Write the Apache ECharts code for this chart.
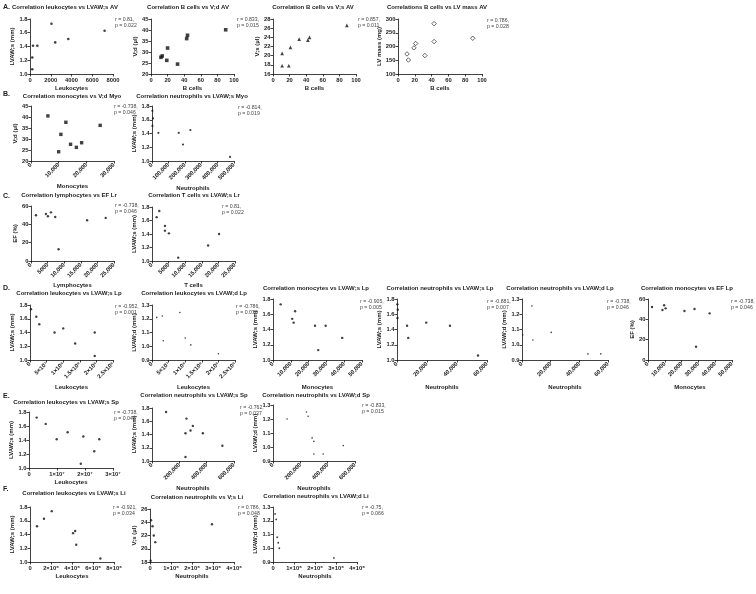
<!DOCTYPE html>
<html>
<head>
<meta charset="utf-8">
<script src="https://cdn.jsdelivr.net/npm/echarts@6/dist/echarts.min.js"></script>
<style>
html, body { margin: 0; background: #fff; }
#chart { width: 756px; height: 594px; }
</style>
</head>
<body>
<div id="chart"></div>
<script>
// ---- data ----
// A: AV
const a1Leukocytes = [220, 220, 290, 710, 2070, 2430, 3690, 7190]
const a1LvawS = [1.07, 1.24, 1.41, 1.41, 1.73, 1.46, 1.51, 1.63]
const a2BCells = [12, 13.5, 20, 19, 32, 43, 44, 90]
const a2Vd = [27.6, 28.2, 31.8, 26.2, 24.5, 36.1, 37.6, 40.1]
const a3BCells = [11, 11, 19, 21, 31.5, 42, 44, 89]
const a3Vs = [20.5, 17.8, 17.8, 21.8, 23.6, 23.4, 24.0, 26.6]
const a4BCells = [10.7, 12.4, 19, 21, 32, 43, 43, 89]
const a4LvMass = [173, 151, 195, 211, 167, 283, 218, 230]
// B: Myo
const b1Monocytes = [6100, 10000, 10800, 12600, 14300, 16400, 18300, 25000]
const b1Vd = [40.5, 24.2, 32.1, 37.6, 27.6, 26.2, 28.3, 36.2]
const b2Neutrophils = [2400, 6100, 2400, 39000, 163000, 189000, 234000, 476000]
const b2LvawS = [1.73, 1.62, 1.51, 1.41, 1.41, 1.24, 1.45, 1.06]
// C: Lr
const c1Lymphocytes = [1500, 4500, 5100, 6000, 7300, 8300, 16900, 22500]
const c1Ef = [49.9, 51.3, 48.8, 53.1, 48, 12.8, 44.4, 47]
const c2TCells = [1400, 2200, 3900, 3900, 5100, 7900, 16900, 20200]
const c2LvawS = [1.65, 1.74, 1.52, 1.45, 1.41, 1.05, 1.23, 1.40]
// D: Lp
const d1Leukocytes = [3e6, 1.9e7, 2.8e7, 7.4e7, 1.0e8, 1.36e8, 1.95e8, 1.95e8]
const d1LvawS = [1.74, 1.63, 1.52, 1.40, 1.46, 1.24, 1.40, 1.06]
const d2Leukocytes = [1.4e7, 3.1e7, 8.4e7, 1.0e8, 3.4e7, 1.17e8, 2.0e8]
const d2LvawD = [1.21, 1.22, 1.245, 1.06, 1.04, 1.01, 0.945]
const d3Monocytes = [4300, 10800, 11600, 12400, 23600, 29600, 38900, 25400]
const d3LvawS = [1.73, 1.54, 1.49, 1.64, 1.45, 1.45, 1.29, 1.13]
const d4Neutrophils = [200, 500, 300, 6700, 19500, 35300, 7500, 54000]
const d4LvawS = [1.73, 1.66, 1.55, 1.45, 1.49, 1.45, 1.29, 1.06]
const d5Neutrophils = [500, 6900, 7600, 20400, 46000, 55000]
const d5LvawD = [1.064, 1.254, 1.031, 1.081, 0.94, 0.94]
const d6Monocytes = [2400, 8600, 9600, 10500, 21700, 27700, 36700, 28600]
const d6Ef = [52.1, 49.2, 53.8, 50.8, 48.2, 50.2, 45.9, 13]
// E: Sp
const e1Leukocytes = [2.75e6, 5.96e6, 9.9e6, 1.38e7, 1.94e7, 2.51e7, 2.33e7, 1.85e7]
const e1LvawS = [1.72, 1.63, 1.41, 1.51, 1.45, 1.41, 1.24, 1.06]
const e2Neutrophils = [103000, 252000, 299000, 282000, 245000, 372000, 515000, 245000]
const e2LvawS = [1.74, 1.64, 1.53, 1.46, 1.42, 1.42, 1.23, 1.06]
const e3Neutrophils = [103000, 245000, 257000, 286000, 299000, 299000, 367000, 514000]
const e3LvawD = [1.20, 1.25, 1.22, 1.065, 1.04, 0.95, 0.95, 1.01]
// F: Li
const f1Leukocytes = [0.67e6, 1.33e6, 2.07e6, 4.1e6, 4.3e6, 4.4e6, 6.7e6]
const f1LvawS = [1.52, 1.63, 1.74, 1.42, 1.45, 1.25, 1.05]
const f2Neutrophils = [5e4, 1.2e5, 1.8e5, 2.5e5, 3e4, 2.95e6]
const f2Vs = [24.3, 23.4, 22.0, 21.0, 18.2, 23.7]
const f3Neutrophils = [1e5, 1.5e5, 2e5, 2.5e5, 3e5, 2.9e6]
const f3LvawD = [1.25, 1.21, 1.08, 1.04, 1.0, 0.93]

const sectionLabels = ['A.', 'B.', 'C.', 'D.', 'E.', 'F.']

// ---- panel layout ----
const panels = [
    {title: 'Correlation leukocytes vs LVAW;s AV', tx: 65, ty: 7, rp: 'r = 0.81,\np = 0.022', rx: 115, ry: 16,
     grid: [30, 19, 83, 55], xs: a1Leukocytes, ys: a1LvawS, x: [0, 8000, 2000, 'plain', 0, 'Leukocytes', 11], y: [1.0, 1.8, 0.2, 1, 'LVAW;s (mm)'], sym: 'circle', size: 2.6},
    {title: 'Correlation B cells vs V;d AV', tx: 188, ty: 7, rp: 'r = 0.833,\np = 0.015', rx: 237, ry: 16,
     grid: [151, 19, 83, 55], xs: a2BCells, ys: a2Vd, x: [0, 100, 20, 'plain', 0, 'B cells', 11], y: [20, 45, 5, 0, 'V;d (µl)'], sym: 'rect', size: 3.6},
    {title: 'Correlation B cells vs V;s AV', tx: 313, ty: 7, rp: 'r = 0.857,\np = 0.011', rx: 358, ry: 16,
     grid: [273, 19, 83, 55], xs: a3BCells, ys: a3Vs, x: [0, 100, 20, 'plain', 0, 'B cells', 11], y: [16, 28, 2, 0, 'V;s (µl)'], sym: 'triangle', size: 3.6},
    {title: 'Correlations B cells vs LV mass AV', tx: 437, ty: 7, rp: 'r = 0.786,\np = 0.028', rx: 487, ry: 17,
     grid: [398, 19, 84, 55], xs: a4BCells, ys: a4LvMass, x: [0, 100, 20, 'plain', 0, 'B cells', 11], y: [100, 300, 50, 0, 'LV mass (mg)'], sym: 'diamond', size: 4.5, hollow: true},

    {title: 'Correlation monocytes vs V;d Myo', tx: 72, ty: 96, rp: 'r = -0.738,\np = 0.046', rx: 114, ry: 103,
     grid: [31, 106, 83, 55], xs: b1Monocytes, ys: b1Vd, x: [0, 30000, 10000, 'plain', 45, 'Monocytes', 22], y: [20, 45, 5, 0, 'V;d (µl)'], sym: 'rect', size: 3.4},
    {title: 'Correlation neutrophils vs LVAW;s Myo', tx: 192, ty: 96, rp: 'r = -0.814,\np = 0.019', rx: 238, ry: 104,
     grid: [152, 106, 82, 55], xs: b2Neutrophils, ys: b2LvawS, x: [0, 500000, 100000, 'plain', 45, 'Neutrophils', 24], y: [1.0, 1.8, 0.2, 1, 'LVAW;s (mm)'], sym: 'circle', size: 2.2},

    {title: 'Correlation lymphocytes vs EF Lr', tx: 69, ty: 195, rp: 'r = -0.738,\np = 0.046', rx: 115, ry: 202,
     grid: [31, 206, 83, 55], xs: c1Lymphocytes, ys: c1Ef, x: [0, 25000, 5000, 'plain', 45, 'Lymphocytes', 21], y: [0, 60, 20, 0, 'EF (%)'], sym: 'circle', size: 2.4},
    {title: 'Correlation T cells vs LVAW;s Lr', tx: 194, ty: 195, rp: 'r = 0.81,\np = 0.022', rx: 222, ry: 203,
     grid: [152, 207, 83, 54], xs: c2TCells, ys: c2LvawS, x: [0, 25000, 5000, 'plain', 45, 'T cells', 21], y: [1.0, 1.8, 0.2, 1, 'LVAW;s (mm)'], sym: 'circle', size: 2.4},

    {title: 'Correlation leukocytes vs LVAW;s Lp', tx: 69, ty: 293, rp: 'r = -0.952,\np = 0.001', rx: 115, ry: 303,
     grid: [30, 305, 83, 55], xs: d1Leukocytes, ys: d1LvawS, x: [0, 2.5e8, 5e7, 'sci', 45, 'Leukocytes', 24], y: [1.0, 1.8, 0.2, 1, 'LVAW;s (mm)'], sym: 'circle', size: 2.4},
    {title: 'Correlation leukocytes vs LVAW;d Lp', tx: 194, ty: 293, rp: 'r = -0.786,\np = 0.036', rx: 236, ry: 303,
     grid: [152, 305, 83, 55], xs: d2Leukocytes, ys: d2LvawD, x: [0, 2.5e8, 5e7, 'sci', 45, 'Leukocytes', 24], y: [0.9, 1.3, 0.1, 1, 'LVAW;d (mm)'], sym: 'circle', size: 1.6},
    {title: 'Correlation monocytes vs LVAW;s Lp', tx: 316, ty: 288, rp: 'r = -0.905,\np = 0.005', rx: 360, ry: 298,
     grid: [273, 299, 89, 61], xs: d3Monocytes, ys: d3LvawS, x: [0, 50000, 10000, 'plain', 45, 'Monocytes', 24], y: [1.0, 1.8, 0.2, 1, 'LVAW;s (mm)'], sym: 'circle', size: 2.4},
    {title: 'Correlation neutrophils vs LVAW;s Lp', tx: 440, ty: 288, rp: 'r = -0.881,\np = 0.007', rx: 487, ry: 298,
     grid: [397, 299, 90, 61], xs: d4Neutrophils, ys: d4LvawS, x: [0, 60000, 20000, 'plain', 45, 'Neutrophils', 24], y: [1.0, 1.8, 0.2, 1, 'LVAW;s (mm)'], sym: 'circle', size: 2.4},
    {title: 'Correlation neutrophils vs LVAW;d Lp', tx: 560, ty: 288, rp: 'r = -0.738,\np = 0.046', rx: 607, ry: 298,
     grid: [522, 299, 86, 61], xs: d5Neutrophils, ys: d5LvawD, x: [0, 60000, 20000, 'plain', 45, 'Neutrophils', 24], y: [0.9, 1.3, 0.1, 1, 'LVAW;d (mm)'], sym: 'circle', size: 1.6},
    {title: 'Correlation monocytes vs EF Lp', tx: 687, ty: 288, rp: 'r = -0.738,\np = 0.046', rx: 731, ry: 298,
     grid: [648, 299, 84, 61], xs: d6Monocytes, ys: d6Ef, x: [0, 50000, 10000, 'plain', 45, 'Monocytes', 24], y: [0, 60, 20, 0, 'EF (%)'], sym: 'circle', size: 2.4},

    {title: 'Correlation leukocytes vs LVAW;s Sp', tx: 66, ty: 402, rp: 'r = -0.738,\np = 0.046', rx: 114, ry: 409,
     grid: [29, 412, 84, 56], xs: e1Leukocytes, ys: e1LvawS, x: [0, 3e7, 1e7, 'sci', 0, 'Leukocytes', 11], y: [1.0, 1.8, 0.2, 1, 'LVAW;s (mm)'], sym: 'circle', size: 2.4},
    {title: 'Correlation neutrophils vs LVAW;s Sp', tx: 194, ty: 395, rp: 'r = -0.762,\np = 0.037', rx: 240, ry: 404,
     grid: [152, 408, 82, 53], xs: e2Neutrophils, ys: e2LvawS, x: [0, 600000, 200000, 'plain', 45, 'Neutrophils', 24], y: [1.0, 1.8, 0.2, 1, 'LVAW;s (mm)'], sym: 'circle', size: 2.4},
    {title: 'Correlation neutrophils vs LVAW;d Sp', tx: 316, ty: 395, rp: 'r = -0.833,\np = 0.015', rx: 362, ry: 402,
     grid: [273, 405, 82, 56], xs: e3Neutrophils, ys: e3LvawD, x: [0, 600000, 200000, 'plain', 45, 'Neutrophils', 24], y: [0.9, 1.3, 0.1, 1, 'LVAW;d (mm)'], sym: 'circle', size: 1.6},

    {title: 'Correlation leukocytes vs LVAW;s Li', tx: 74, ty: 493, rp: 'r = -0.921,\np = 0.034', rx: 113, ry: 504,
     grid: [30, 507, 84, 55], xs: f1Leukocytes, ys: f1LvawS, x: [0, 8e6, 2e6, 'sci', 0, 'Leukocytes', 11], y: [1.0, 1.8, 0.2, 1, 'LVAW;s (mm)'], sym: 'circle', size: 2.4},
    {title: 'Correlation neutrophils vs V;s Li', tx: 197, ty: 497, rp: 'r = 0.786,\np = 0.048', rx: 238, ry: 504,
     grid: [150, 509, 84, 53], xs: f2Neutrophils, ys: f2Vs, x: [0, 4e6, 1e6, 'sci', 0, 'Neutrophils', 11], y: [18, 26, 2, 0, 'V;s (µl)'], sym: 'circle', size: 2.4},
    {title: 'Correlation neutrophils vs LVAW;d Li', tx: 316, ty: 496, rp: 'r = -0.75,\np = 0.066', rx: 362, ry: 504,
     grid: [273, 507, 84, 55], xs: f3Neutrophils, ys: f3LvawD, x: [0, 4e6, 1e6, 'sci', 0, 'Neutrophils', 11], y: [0.9, 1.3, 0.1, 1, 'LVAW;d (mm)'], sym: 'circle', size: 1.8}
]
const sectionY = [7, 94, 196, 288, 396, 489]

const FONT = "'Liberation Sans', Arial, sans-serif"
const sup = {'0': '⁰', '1': '¹', '2': '²', '3': '³', '4': '⁴', '5': '⁵', '6': '⁶', '7': '⁷', '8': '⁸', '9': '⁹'}

function plainLabel(v) {
    if (v >= 10000) return String(v).replace(/\B(?=(\d{3})+(?!\d))/g, ',')
    return String(v)
}
function sciLabel(v) {
    if (v === 0) return '0'
    let e = Math.floor(Math.log10(v) + 1e-9)
    let m = +(v / Math.pow(10, e)).toFixed(1)
    return m + '×10' + String(e).split('').map(c => sup[c]).join('')
}

let grids = [], xAxes = [], yAxes = [], series = [], graphics = []
const axisCommon = {
    axisLine: {lineStyle: {color: '#111', width: 0.8}},
    axisTick: {length: 2.5, lineStyle: {color: '#111', width: 0.8}},
    splitLine: {show: false},
    nameTextStyle: {fontFamily: FONT, fontSize: 6, fontWeight: 'bold', color: '#222'}
}

panels.forEach((p, i) => {
    grids.push({left: p.grid[0], top: p.grid[1], width: p.grid[2], height: p.grid[3], containLabel: false})
    let fmt = p.x[3] === 'sci' ? sciLabel : plainLabel
    xAxes.push(Object.assign({}, axisCommon, {
        type: 'value', gridIndex: i, min: p.x[0], max: p.x[1], interval: p.x[2],
        name: p.x[5], nameLocation: 'middle', nameGap: p.x[6],
        axisLabel: {fontFamily: FONT, fontSize: 5.8, fontWeight: 'bold', color: '#222', margin: 3, rotate: p.x[4], formatter: fmt}
    }))
    let dec = p.y[3]
    yAxes.push(Object.assign({}, axisCommon, {
        type: 'value', gridIndex: i, min: p.y[0], max: p.y[1], interval: p.y[2],
        name: p.y[4], nameLocation: 'middle', nameGap: dec ? 10.5 : (p.y[1] >= 100 ? 13 : 9.5),
        axisLabel: {fontFamily: FONT, fontSize: 5.8, fontWeight: 'bold', color: '#222', margin: 2.5, formatter: v => v.toFixed(dec)}
    }))
    series.push({
        type: 'scatter', xAxisIndex: i, yAxisIndex: i,
        symbol: p.sym, symbolSize: p.size,
        itemStyle: p.hollow ? {color: '#fff', borderColor: '#111', borderWidth: 0.8} : {color: '#111'},
        data: p.xs.map((x, k) => [x, p.ys[k]])
    })
    graphics.push({type: 'text', x: p.tx, y: p.ty,
        style: {text: p.title, fontFamily: FONT, fontSize: 6, fontWeight: 'bold', fill: '#222', textAlign: 'center', textVerticalAlign: 'middle'}})
    graphics.push({type: 'text', x: p.rx, y: p.ry,
        style: {text: p.rp, fontFamily: FONT, fontSize: 5.2, fill: '#444', lineHeight: 6.5, textAlign: 'left', textVerticalAlign: 'top'}})
})

sectionLabels.forEach((s, i) => {
    graphics.push({type: 'text', x: 3, y: sectionY[i],
        style: {text: s, fontFamily: FONT, fontSize: 7, fontWeight: 'bold', fill: '#222', textVerticalAlign: 'middle'}})
})

let chart = echarts.init(document.getElementById('chart'))
chart.setOption({
    animation: false,
    backgroundColor: '#fff',
    grid: grids,
    xAxis: xAxes,
    yAxis: yAxes,
    series: series,
    graphic: graphics
})
</script>
</body>
</html>
